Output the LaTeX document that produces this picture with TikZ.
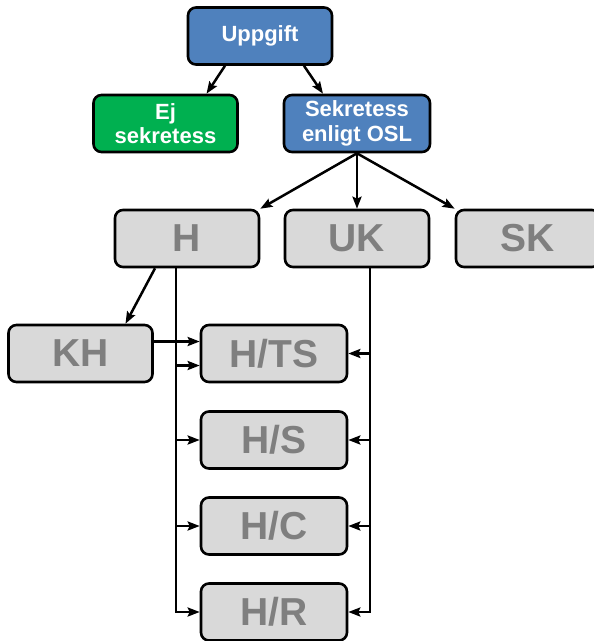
\documentclass[tikz,border=0pt]{standalone}
\usepackage{fontspec}
\setmainfont{Liberation Sans}
\usetikzlibrary{arrows.meta}
\definecolor{boxblue}{HTML}{4F81BD}
\definecolor{boxgreen}{HTML}{00B050}
\definecolor{boxgray}{HTML}{D9D9D9}
\definecolor{textgray}{HTML}{7F7F7F}
\tikzset{
    box/.style={draw=black, line width=2.6pt, rounded corners=8pt,
        minimum width=144pt, minimum height=57pt, inner sep=2pt, align=center,
        font=\bfseries\fontsize{22}{24.5}\selectfont},
    topbox/.style={box, fill=boxblue, text=white},
    nobox/.style={box, fill=boxgreen, text=white},
    levelbox/.style={box, fill=boxgray, text=textgray,
        font=\bfseries\fontsize{39}{40}\selectfont},
    arr/.style={line width=2.5pt, -{Stealth[length=12pt, width=9pt, inset=2pt]}}
}
\begin{document}
\begin{tikzpicture}[x=1pt, y=-1pt]
                        \useasboundingbox (0,0) rectangle (594,641);

                        \node[topbox] (U) at (260,36) {Uppgift};
                        \node[nobox] (E) at (165.5,123.5) {Ej\\sekretess};
                        \node[topbox, minimum width=146pt] (S) at (357,123.5) {Sekretess\\enligt OSL};

                        \node[levelbox] (H) at (187,238.5) {H};
                        \node[levelbox] (UK) at (357,238.5) {UK};
                        \node[levelbox] (SK) at (528,238.5) {SK};

                        \node[levelbox] (KH) at (80.5,353.5) {KH};
                        \node[levelbox, minimum width=146pt] (HTS) at (274,353.5) {H/TS};
                        \node[levelbox, minimum width=146pt] (HS) at (274,440) {H/S};
                        \node[levelbox, minimum width=146pt] (HC) at (274,526) {H/C};
                        \node[levelbox, minimum width=146pt] (HR) at (274,612) {H/R};

                        \coordinate (LT) at ([xshift=-11pt]H.south);
                        \coordinate (RT) at ([xshift=13pt]UK.south);

                        \draw[arr] ([xshift=-35pt]U.south) -- ([xshift=41pt]E.north);
                        \draw[arr] ([xshift=44pt]U.south) -- ([xshift=-34pt]S.north);

                        \draw[arr] (S.south) -- (H.north east);
                        \draw[arr] (S.south) -- (UK.north);
                        \draw[arr] (S.south) -- (SK.north west);

                        \draw[arr] ([xshift=-32pt]H.south) -- ([xshift=45pt]KH.north);
                        \draw[arr] ([yshift=12pt]KH.east) -- ([yshift=12pt]HTS.west);

                        \draw[arr] (LT) |- (HR.west);
                        \draw[arr] ([yshift=-12pt]HTS.west -| LT) -- ([yshift=-12pt]HTS.west);
                        \foreach \n in {HS,HC}
                            \draw[arr] (LT |- \n.west) -- (\n.west);

                        \draw[arr] (RT) |- (HR.east);
                        \foreach \n in {HTS,HS,HC}
                            \draw[arr] (RT |- \n.east) -- (\n.east);
                    \end{tikzpicture}
\end{document}
